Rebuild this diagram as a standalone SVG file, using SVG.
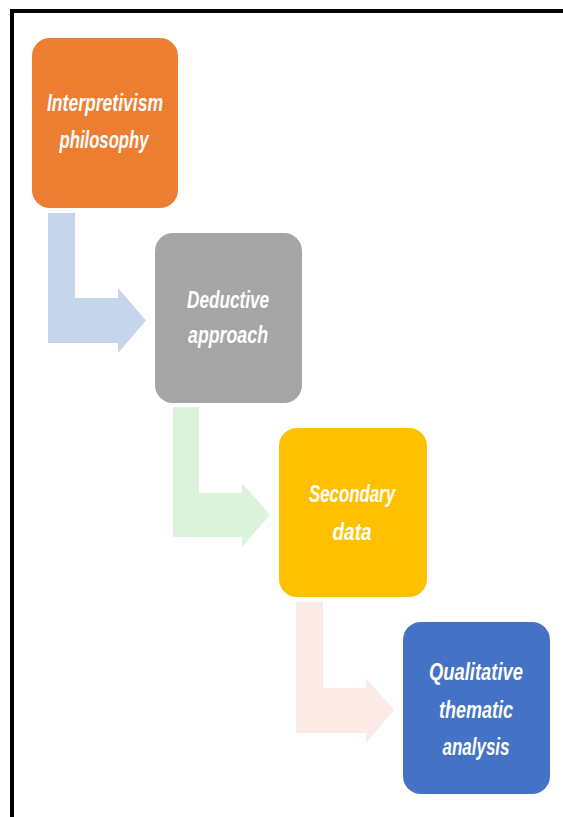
<svg xmlns="http://www.w3.org/2000/svg" width="563" height="817" viewBox="0 0 563 817">
<style>
.box{stroke:none}
.lbl{font-family:"Liberation Sans",Arial,sans-serif;font-weight:bold;font-style:italic;font-size:23px;fill:#ffffff;text-anchor:middle}
</style>
<rect x="0" y="0" width="563" height="817" fill="#ffffff"/>
<g id="frame">
<rect x="10" y="9" width="553" height="4" fill="#000000"/>
<rect x="10" y="9" width="4" height="808" fill="#000000"/>
</g>
<g id="connectors">
<path d="M48,213 H75 V298 H118 V288 L146,320.5 L118,353 V343 H48 Z" fill="#C5D5EB"/>
<path d="M173,407 H199 V493 H242 V483 L270,515 L242,547 V537 H173 Z" fill="#DAF3DA"/>
<path d="M296,602 H323 V688 H366 V678 L394,710 L366,743 V733 H296 Z" fill="#FBEAE6"/>
</g>
<g id="n1">
<rect class="box" x="32" y="38" width="146" height="170" rx="18" fill="#ED7D31"/>
<text class="lbl" x="105" y="111" textLength="116" lengthAdjust="spacingAndGlyphs">Interpretivism</text>
<text class="lbl" x="104" y="148" textLength="89" lengthAdjust="spacingAndGlyphs">philosophy</text>
</g>
<g id="n2">
<rect class="box" x="155" y="233" width="147" height="170" rx="18" fill="#A5A5A5"/>
<text class="lbl" x="228" y="308" textLength="82" lengthAdjust="spacingAndGlyphs">Deductive</text>
<text class="lbl" x="228" y="343" textLength="80" lengthAdjust="spacingAndGlyphs">approach</text>
</g>
<g id="n3">
<rect class="box" x="279" y="428" width="148" height="169" rx="18" fill="#FFC000"/>
<text class="lbl" x="352" y="502" textLength="86" lengthAdjust="spacingAndGlyphs">Secondary</text>
<text class="lbl" x="352" y="540" textLength="39" lengthAdjust="spacingAndGlyphs">data</text>
</g>
<g id="n4">
<rect class="box" x="403" y="622" width="147" height="172" rx="18" fill="#4472C4"/>
<text class="lbl" x="476" y="680" textLength="94" lengthAdjust="spacingAndGlyphs">Qualitative</text>
<text class="lbl" x="476" y="718" textLength="74" lengthAdjust="spacingAndGlyphs">thematic</text>
<text class="lbl" x="476" y="755" textLength="67" lengthAdjust="spacingAndGlyphs">analysis</text>
</g>
</svg>
